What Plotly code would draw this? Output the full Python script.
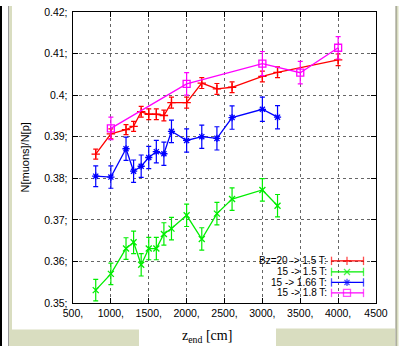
import plotly.graph_objects as go

# ---------------- data ----------------
z_red = [800, 1000, 1200, 1300, 1400, 1500, 1600, 1700, 1800, 2000, 2200, 2400, 2600, 3000, 3200, 4000]
v_red = [0.3858, 0.3907, 0.3917, 0.3925, 0.3960, 0.3954, 0.3954, 0.3951, 0.3982, 0.3982,
         0.4029, 0.4015, 0.4019, 0.4045, 0.4055, 0.4085]
e_red = [0.0012, 0.0012, 0.0012, 0.0012, 0.0013, 0.0013, 0.0013, 0.0013, 0.0013, 0.0013,
         0.0013, 0.0013, 0.0013, 0.0013, 0.0013, 0.0014]

z_green = [800, 1000, 1200, 1300, 1400, 1500, 1600, 1700, 1800, 2000, 2200, 2400, 2600, 3000, 3200]
v_green = [0.3531, 0.3570, 0.3631, 0.3646, 0.3592, 0.3631, 0.3631, 0.3666, 0.3679, 0.3711,
           0.3654, 0.3715, 0.3750, 0.3772, 0.3734]
e_green = [0.0026, 0.0026, 0.0026, 0.0027, 0.0027, 0.0027, 0.0027, 0.0027, 0.0027, 0.0027,
           0.0027, 0.0027, 0.0027, 0.0027, 0.0027]

z_blue = [800, 1000, 1200, 1300, 1400, 1500, 1600, 1700, 1800, 2000, 2200, 2400, 2600, 3000, 3200]
v_blue = [0.3805, 0.3803, 0.3871, 0.3817, 0.3829, 0.3850, 0.3864, 0.3859, 0.3913, 0.3891,
          0.3900, 0.3896, 0.3946, 0.3966, 0.3947]
e_blue = [0.0025, 0.0027, 0.0028, 0.0027, 0.0027, 0.0027, 0.0027, 0.0028, 0.0027, 0.0028,
          0.0028, 0.0028, 0.0028, 0.0029, 0.0028]

z_mag = [1000, 2000, 3000, 3500, 4000]
v_mag = [0.3920, 0.4027, 0.4076, 0.4054, 0.4114]
e_mag = [0.0027, 0.0027, 0.0029, 0.0027, 0.0027]

series_names = ["Bz=20 -> 1.5 T:", "15 -> 1.5 T:", "15 -> 1.66 T:", "15 -> 1.8 T:"]
series_colors = ["#ff0000", "#00ee00", "#0000ff", "#ff00ff"]
series_symbols = ["cross-thin-open", "x-thin-open", "asterisk-open", "square-open"]
series_sizes = [6, 6, 6, 7]

x_tickvals = [500, 1000, 1500, 2000, 2500, 3000, 3500, 4000, 4500]
x_ticktext = ["500,", "1000,", "1500,", "2000,", "2500,", "3000,", "3500,", "4000,", "4500"]
y_tickvals = [0.35, 0.36, 0.37, 0.38, 0.39, 0.40, 0.41, 0.42]
y_ticktext = ["0.35;", "0.36;", "0.37;", "0.38;", "0.39;", "0.4;", "0.41;", "0.42;"]

# ---------------- geometry (pixels) ----------------
W, H = 403, 347
L, R, T, B = 73, 376, 6, 303


def xp(px):
    return (px - L) / (R - L)


def yp(py):
    return (B - py) / (B - T)


fig = go.Figure()

data = [(z_red, v_red, e_red), (z_green, v_green, e_green),
        (z_blue, v_blue, e_blue), (z_mag, v_mag, e_mag)]
for (zx, vy, ee), name, col, sym, sz in zip(data, series_names, series_colors,
                                             series_symbols, series_sizes):
    fig.add_trace(go.Scatter(
        x=zx, y=vy, mode="lines+markers", name=name, showlegend=False,
        line=dict(color=col, width=1.3),
        marker=dict(symbol=sym, size=sz, color=col, line=dict(color=col, width=1.3)),
        error_y=dict(type="data", array=ee, visible=True, color=col, thickness=1.2, width=2.5),
        cliponaxis=False,
    ))

# ---------------- gnuplot-like key (pixel overlay axes) ----------------
key_rows = [260, 271.3, 282, 292.7]
key_x0, key_xm, key_x1 = 331.5, 347, 363.5
for row, name, col, sym, sz in zip(key_rows, series_names, series_colors, series_symbols,
                                   series_sizes):
    fig.add_trace(go.Scatter(
        x=[key_x0, key_xm, key_x1], y=[row, row, row], xaxis="x2", yaxis="y2",
        mode="lines+markers", showlegend=False, hoverinfo="skip",
        line=dict(color=col, width=1.3),
        marker=dict(symbol=["line-ns-open", sym, "line-ns-open"], size=[6, sz, 6],
                    color=col, line=dict(color=col, width=1.3)),
        cliponaxis=False,
    ))
    fig.add_annotation(x=xp(328), y=yp(row), xref="paper", yref="paper",
                       text=name, showarrow=False, xanchor="right", yanchor="middle",
                       borderpad=0,
                       font=dict(family="Liberation Sans", size=10, color="black"))

axis_common = dict(
    showline=True, linecolor="black", linewidth=1.4, mirror="allticks",
    ticks="inside", ticklen=5, tickcolor="black", tickwidth=1,
    showgrid=True, gridcolor="#666666", gridwidth=1, griddash="dot",
    zeroline=False, ticklabeloverflow="allow",
    tickfont=dict(family="Liberation Sans", size=10.5, color="black"),
)

fig.update_layout(
    width=W, height=H,
    margin=dict(l=L, r=W - R, t=T, b=H - B),
    paper_bgcolor="white", plot_bgcolor="white",
    showlegend=False,
    xaxis=dict(range=[500, 4500], tickvals=x_tickvals, ticktext=x_ticktext, **axis_common),
    yaxis=dict(range=[0.35, 0.42000001], tickvals=y_tickvals, ticktext=y_ticktext,
               ticklabelstandoff=2, **axis_common),
    xaxis2=dict(range=[L, R], overlaying="x", anchor="y2", visible=False, fixedrange=True),
    yaxis2=dict(range=[B, T], overlaying="y", anchor="x2", visible=False, fixedrange=True),
)

# axis titles
fig.add_annotation(x=xp(207), y=yp(337), xref="paper", yref="paper",
                   text="z<sub>end</sub> [cm]", showarrow=False,
                   xanchor="center", yanchor="middle",
                   font=dict(family="Liberation Serif", size=14, color="black"))
fig.add_annotation(x=xp(24), y=yp(154.5), xref="paper", yref="paper",
                   text="N[muons]/N[p]", showarrow=False, textangle=-90,
                   xanchor="center", yanchor="middle",
                   font=dict(family="Liberation Sans", size=11, color="black"))

# ---------------- page decorations ----------------
beige = "#d9ddc0"
shapes = [
    dict(type="rect", x0=xp(0), x1=xp(2), y0=yp(0), y1=yp(H), fillcolor="black", line_width=0),
    dict(type="rect", x0=xp(8), x1=xp(9.3), y0=yp(0), y1=yp(H), fillcolor="#9a9a9a", line_width=0),
    dict(type="rect", x0=xp(9.3), x1=xp(12), y0=yp(0), y1=yp(H), fillcolor=beige, line_width=0),
    dict(type="rect", x0=xp(9.3), x1=xp(139), y0=yp(330), y1=yp(H), fillcolor=beige, line_width=0),
    dict(type="rect", x0=xp(276), x1=xp(395), y0=yp(329), y1=yp(H), fillcolor=beige, line_width=0),
    dict(type="rect", x0=xp(395.5), x1=xp(396.8), y0=yp(0), y1=yp(H), fillcolor="#8c8c78", line_width=0),
    dict(type="rect", x0=xp(396.8), x1=xp(398.5), y0=yp(0), y1=yp(H), fillcolor=beige, line_width=0),
    # opaque key box over the grid
    dict(type="rect", x0=xp(236), x1=xp(R), y0=yp(252), y1=yp(B), fillcolor="white",
         line_width=0, layer="between"),
]
for s in shapes:
    s.setdefault("xref", "paper")
    s.setdefault("yref", "paper")
    if "layer" not in s:
        s["layer"] = "below"
    fig.add_shape(**s)

fig.write_html("out.html", config={"displayModeBar": False, "staticPlot": True},
               post_script="document.body.style.margin='0';document.body.style.overflow='hidden';")
